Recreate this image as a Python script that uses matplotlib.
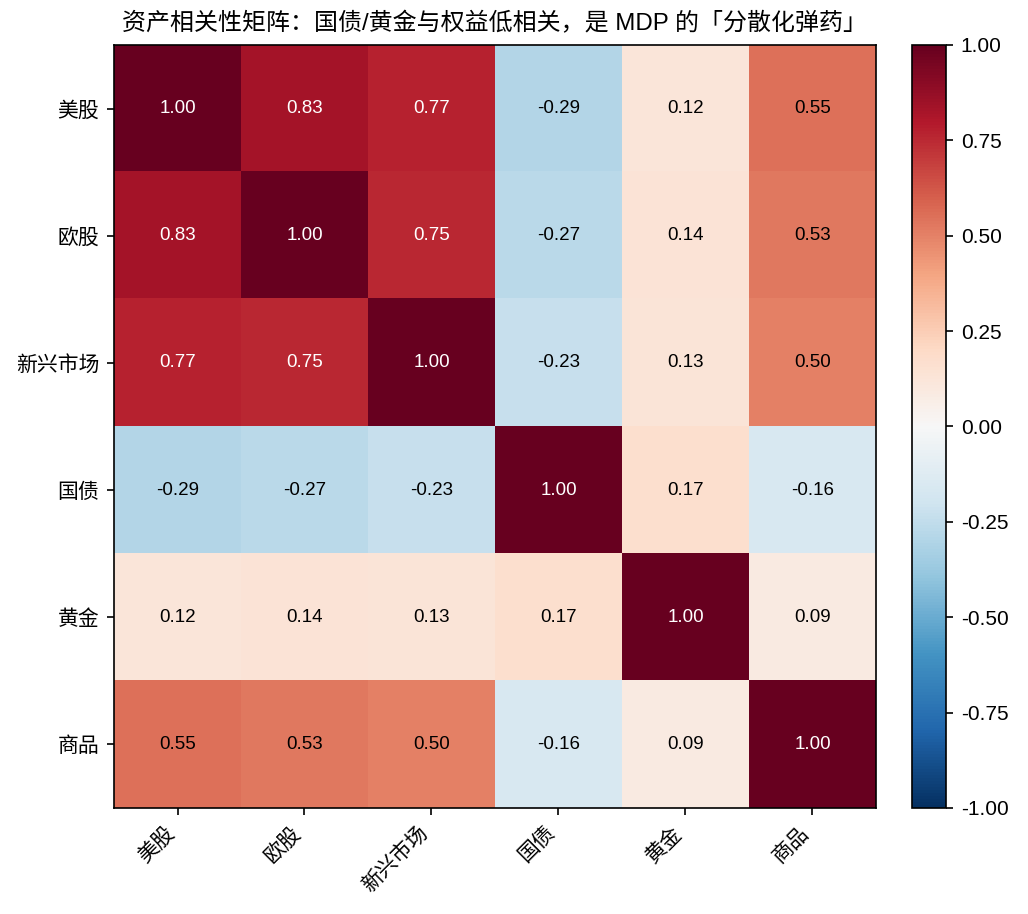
import numpy as np
import matplotlib
matplotlib.use("Agg")
import matplotlib.pyplot as plt

plt.rcParams['font.family'] = ['Liberation Sans', 'Noto Sans CJK SC', 'DejaVu Sans']
plt.rcParams['axes.unicode_minus'] = False

assets = ['美股', '欧股', '新兴市场', '国债', '黄金', '商品']
corr = np.array([
    [1.00, 0.83, 0.77, -0.29, 0.12, 0.55],
    [0.83, 1.00, 0.75, -0.27, 0.14, 0.53],
    [0.77, 0.75, 1.00, -0.23, 0.13, 0.50],
    [-0.29, -0.27, -0.23, 1.00, 0.17, -0.16],
    [0.12, 0.14, 0.13, 0.17, 1.00, 0.09],
    [0.55, 0.53, 0.50, -0.16, 0.09, 1.00],
])
cbar_ticks = [-1.00, -0.75, -0.50, -0.25, 0.00, 0.25, 0.50, 0.75, 1.00]

dpi = 150
fig = plt.figure(figsize=(1028 / dpi, 914 / dpi), dpi=dpi)
ax = fig.add_axes([0.1109, 0.1160, 0.7412, 0.8348])
cax = fig.add_axes([0.8872, 0.1160, 0.0331, 0.8348])

im = ax.imshow(corr, cmap='RdBu_r', vmin=-1, vmax=1, aspect='auto')
ax.set_xticks(range(len(assets)))
ax.set_yticks(range(len(assets)))
ax.set_xticklabels(assets, rotation=45, ha='right', fontsize=10)
ax.set_yticklabels(assets, fontsize=10)
ax.set_title('资产相关性矩阵：国债/黄金与权益低相关，是 MDP 的「分散化弹药」', fontsize=11.5, pad=7)

for i in range(len(assets)):
    for j in range(len(assets)):
        v = corr[i, j]
        color = 'white' if abs(v) > 0.6 else 'black'
        ax.text(j, i, f'{v:.2f}', ha='center', va='center', color=color, fontsize=9)

cb = fig.colorbar(im, cax=cax, ticks=cbar_ticks)
cb.ax.set_yticklabels([f'{t:.2f}' for t in cbar_ticks], fontsize=10)

fig.savefig('out.png', dpi=dpi)
